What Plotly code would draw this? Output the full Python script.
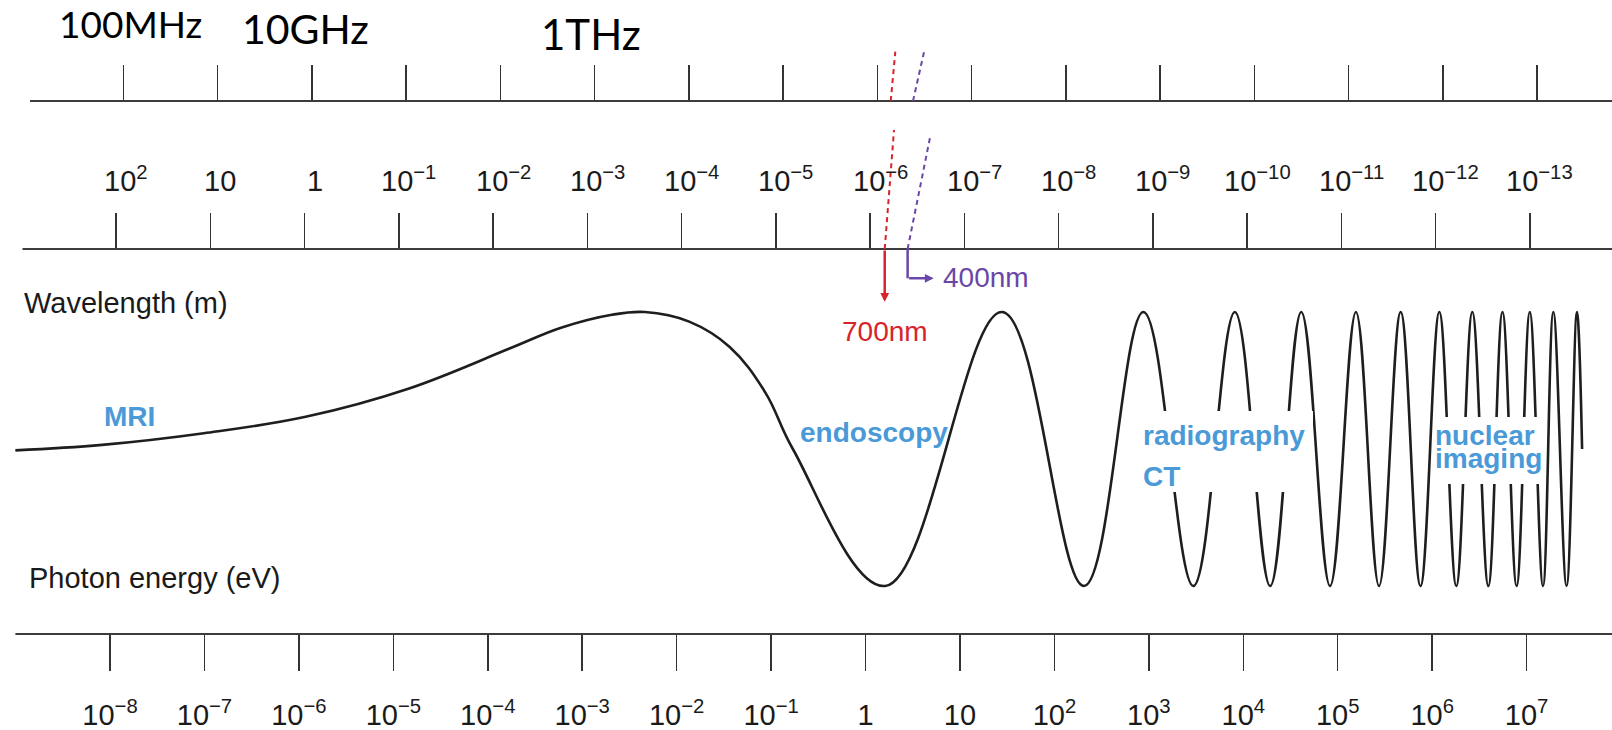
import math
import plotly.graph_objects as go

# ---------------- data ----------------
wavelength_exponents = [2, 1, 0, -1, -2, -3, -4, -5, -6, -7, -8, -9, -10, -11, -12, -13]
wavelength_labels = ["10<sup>2</sup>", "10", "1", "10<sup>−1</sup>", "10<sup>−2</sup>", "10<sup>−3</sup>",
                     "10<sup>−4</sup>", "10<sup>−5</sup>", "10<sup>−6</sup>", "10<sup>−7</sup>",
                     "10<sup>−8</sup>", "10<sup>−9</sup>", "10<sup>−10</sup>", "10<sup>−11</sup>",
                     "10<sup>−12</sup>", "10<sup>−13</sup>"]
energy_exponents = [-8, -7, -6, -5, -4, -3, -2, -1, 0, 1, 2, 3, 4, 5, 6, 7]
energy_labels = ["10<sup>−8</sup>", "10<sup>−7</sup>", "10<sup>−6</sup>", "10<sup>−5</sup>",
                 "10<sup>−4</sup>", "10<sup>−3</sup>", "10<sup>−2</sup>", "10<sup>−1</sup>",
                 "1", "10", "10<sup>2</sup>", "10<sup>3</sup>", "10<sup>4</sup>",
                 "10<sup>5</sup>", "10<sup>6</sup>", "10<sup>7</sup>"]
frequency_exponents = [8, 9, 10, 11, 12, 13, 14, 15, 16, 17, 18, 19, 20, 21, 22, 23]
frequency_labels = ["100MHz", "10GHz", "1THz"]
visible_edges_nm = [700, 400]
visible_edge_labels = ["700nm", "400nm"]
applications = ["MRI", "endoscopy", "radiography", "CT", "nuclear", "imaging"]

# schematic wave: position in log10(wavelength / m) and relative amplitude
wave_log_wavelength = [3.07, 2.15, 1.07, -0.01, -1.10, -2.18, -2.72, -3.26, -3.61, -4.08, -4.51,
                       -4.89, -5.18, -6.16, -7.40, -8.27, -8.90, -9.43, -9.87, -10.245, -10.575,
                       -10.88, -11.155, -11.40, -11.63, -11.84, -12.04, -12.22, -12.39, -12.56,
                       -12.71, -12.86, -13.00, -13.14, -13.25, -13.39, -13.50, -13.555]
wave_amplitude = [-0.01, 0.03, 0.115, 0.235, 0.44, 0.735, 0.885, 0.98, 1.0, 0.93, 0.745,
                  0.41, 0.0, -1, 1, -1, 1, -1, 1, -1, 1,
                  -1, 1, -1, 1, -1, 1, -1, 1, -1,
                  1, -1, 1, -1, 1, -1, 1, 0.0]

# ---------------- layout constants (pixels) ----------------
W, H = 1612, 730
DEC_PX = 94.24          # pixels per decade (wavelength / frequency)
DEC_PX_E = 94.44        # pixels per decade (energy)
WL_REF_PX = 116.2       # x pixel of 10^2 m
FR_REF_PX = 123.4       # x pixel of first frequency tick
EN_REF_PX = 110.0       # x pixel of 10^-8 eV
FR_LINE_Y, WL_LINE_Y, EN_LINE_Y = 101, 249, 634
TICK_LEN = 36
WAVE_MID_Y, WAVE_AMP_PX = 449, 137

FONT = "Liberation Sans, Arial, sans-serif"
TOPFONT = "Lato, Carlito, Open Sans, sans-serif"
INK = "#1a1a1a"
AXC = "#3c3c3c"
BLUE = "#4a9ad8"
RED = "#d8232c"
PURPLE = "#6a46a8"


def px_x(px):
    return px / W


def px_y(py):
    return 1 - py / H


wl_range = [2 + WL_REF_PX / DEC_PX, 2 - (W - WL_REF_PX) / DEC_PX]
fr_range = [8 - FR_REF_PX / DEC_PX, 8 + (W - FR_REF_PX) / DEC_PX]
en_range = [-8 - EN_REF_PX / DEC_PX_E, -8 + (W - EN_REF_PX) / DEC_PX_E]
y_range = [-(H - WAVE_MID_Y) / WAVE_AMP_PX, WAVE_MID_Y / WAVE_AMP_PX]

fig = go.Figure()

# hidden carrier traces so every axis owns data
fig.add_trace(go.Scatter(x=energy_exponents, y=[0] * len(energy_exponents), xaxis="x", yaxis="y",
                         mode="markers", marker=dict(opacity=0), hoverinfo="skip", showlegend=False))
fig.add_trace(go.Scatter(x=frequency_exponents, y=[0] * len(frequency_exponents), xaxis="x3", yaxis="y",
                         mode="markers", marker=dict(opacity=0), hoverinfo="skip", showlegend=False))

# the wave
fig.add_trace(go.Scatter(x=wave_log_wavelength, y=wave_amplitude, xaxis="x2", yaxis="y",
                         mode="lines", line=dict(color="#1e1e1e", width=2.6, shape="spline", smoothing=1.1),
                         hoverinfo="skip", showlegend=False))

axis_common = dict(showgrid=False, zeroline=False, showline=False, ticks="outside", ticklen=TICK_LEN,
                   tickwidth=1.5, tickcolor="#333333", tickmode="array", anchor="free", automargin=False,
                   fixedrange=True)

fig.update_layout(
    width=W, height=H, margin=dict(l=0, r=0, t=0, b=0),
    paper_bgcolor="white", plot_bgcolor="white", template="none", showlegend=False,
    xaxis=dict(**axis_common, domain=[0, 1], range=en_range, side="bottom",
               position=px_y(EN_LINE_Y), tickvals=energy_exponents, ticktext=energy_labels,
               tickfont=dict(family=FONT, size=29, color=INK), ticklabelstandoff=19),
    xaxis2=dict(**axis_common, overlaying="x", range=wl_range, side="top",
                position=px_y(WL_LINE_Y), tickvals=wavelength_exponents, showticklabels=False),
    xaxis3=dict(**axis_common, overlaying="x", range=fr_range, side="top",
                position=px_y(FR_LINE_Y), tickvals=frequency_exponents, showticklabels=False),
    yaxis=dict(visible=False, range=y_range, domain=[0, 1], fixedrange=True),
)

shapes = []
# axis base lines
for y_line, x_start in [(FR_LINE_Y, 30), (WL_LINE_Y, 22.5), (EN_LINE_Y, 15.4)]:
    shapes.append(dict(type="line", xref="paper", yref="paper", x0=px_x(x_start), x1=1,
                       y0=px_y(y_line), y1=px_y(y_line), line=dict(color=AXC, width=2)))

# white masks behind application labels
for x0, x1, y0, y1 in [(1138, 1313, 411, 492), (1433, 1545, 417, 484)]:
    shapes.append(dict(type="rect", xref="paper", yref="paper", x0=px_x(x0), x1=px_x(x1),
                       y0=px_y(y1), y1=px_y(y0), fillcolor="white", line=dict(width=0), layer="above"))

e_edges = [math.log10(nm * 1e-9) for nm in visible_edges_nm]
edge_colors = [RED, PURPLE]
# dashed guides (pixel offsets: bottom x-offset, bottom y, top x-offset, top y)
guide_offsets = [
    [(0, WL_LINE_Y, 9.3, 130), (6.0, FR_LINE_Y, 10.6, 51.7)],
    [(0, WL_LINE_Y, 22.7, 136), (5.4, FR_LINE_Y, 16.7, 50.7)],
]
for e, col, segs in zip(e_edges, edge_colors, guide_offsets):
    for dx0, y0, dx1, y1 in segs:
        shapes.append(dict(type="line", xref="x2", yref="paper",
                           x0=e - dx0 / DEC_PX, x1=e - dx1 / DEC_PX, y0=px_y(y0), y1=px_y(y1),
                           line=dict(color=col, width=2, dash="5px,4px")))
# purple elbow
shapes.append(dict(type="line", xref="x2", yref="paper", x0=e_edges[1], x1=e_edges[1],
                   y0=px_y(WL_LINE_Y), y1=px_y(278.3), line=dict(color=PURPLE, width=2.5)))

fig.update_layout(shapes=shapes)

annotations = []
# wavelength tick labels
for e, lab in zip(wavelength_exponents, wavelength_labels):
    annotations.append(dict(x=e, xref="x2", y=px_y(192 + 0.212 * 29), yref="paper", text=lab,
                            showarrow=False, xanchor="center", yanchor="bottom", xshift=10,
                            borderpad=0, font=dict(family=FONT, size=29, color=INK)))


def text_ann(text, x_px, base_px, size, color, family=FONT, desc=0.212, weight="normal"):
    return dict(x=px_x(x_px), xref="paper", y=px_y(base_px + desc * size), yref="paper", text=text,
                showarrow=False, xanchor="left", yanchor="bottom", borderpad=0,
                font=dict(family=family, size=size, color=color, weight=weight))


# frequency names
for lab, xp, bp, sz in zip(frequency_labels, [58, 241, 540], [39, 45.5, 51.5], [37, 41, 42]):
    annotations.append(text_ann(lab, xp, bp, sz, "#000000", family=TOPFONT, desc=0.213))

annotations.append(text_ann("Wavelength (m)", 23, 314.3, 29, INK))
annotations.append(text_ann("Photon energy (eV)", 27.5, 589, 29, INK))

# application labels
for lab, xp, bp in zip(applications, [103, 798.5, 1141.5, 1141.5, 1433.5, 1433.5],
                       [426.7, 443, 446.5, 486.7, 446, 469]):
    annotations.append(text_ann(lab, xp, bp, 28, BLUE, weight="bold"))

# visible edge labels
annotations.append(text_ann(visible_edge_labels[0], 840.5, 341.7, 28, RED))
annotations.append(text_ann(visible_edge_labels[1], 942, 288.3, 28, PURPLE))

# arrows
annotations.append(dict(x=e_edges[0], xref="x2", y=px_y(301.7), yref="paper", text="", showarrow=True,
                        ax=0, ay=-(301.7 - WL_LINE_Y), arrowhead=2, arrowsize=0.7, arrowwidth=2.5,
                        arrowcolor=RED, standoff=0, startstandoff=0))
annotations.append(dict(x=e_edges[1] - 26 / DEC_PX, xref="x2", y=px_y(278.3), yref="paper", text="",
                        showarrow=True, ax=-26, ay=0, arrowhead=2, arrowsize=0.7, arrowwidth=2.5,
                        arrowcolor=PURPLE, standoff=0, startstandoff=0))

fig.update_layout(annotations=annotations)

fig.write_html("out.html", config={"displayModeBar": False, "staticPlot": True},
               post_script="document.body.style.margin='0';document.body.style.overflow='hidden';")
